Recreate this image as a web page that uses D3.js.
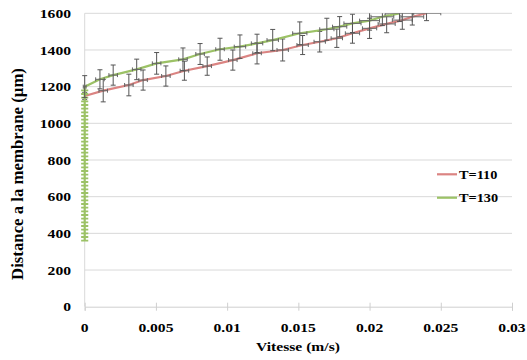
<!DOCTYPE html>
<html><head><meta charset="utf-8">
<script src="https://cdn.jsdelivr.net/npm/d3@7"></script>
<style>body{margin:0;background:#fff} svg{display:block}</style>
</head><body>
<svg id="c" width="527" height="360"></svg>
<script>
const xTicks = [0, 0.005, 0.01, 0.015, 0.02, 0.025, 0.03];
const xTickLabels = ["0", "0.005", "0.01", "0.015", "0.02", "0.025", "0.03"];
const yTicks = [0, 200, 400, 600, 800, 1000, 1200, 1400, 1600];
const seriesNames = ["T=110", "T=130"];
const xTitle = "Vitesse (m/s)";
const yTitle = "Distance a la membrane (µm)";

// T=110
const v110 = [0, 0.0013, 0.0031, 0.0041, 0.0057, 0.0070, 0.0086, 0.0104, 0.0121, 0.0139, 0.0153, 0.0165, 0.0177, 0.0188, 0.0200, 0.0212, 0.0223, 0.0230, 0.0240];
const d110 = [1149, 1178, 1209, 1236, 1258, 1287, 1312, 1345, 1382, 1400, 1427, 1445, 1464, 1491, 1518, 1542, 1563, 1581, 1600];
const dErr110 = [20, 61, 59, 55, 55, 52, 50, 55, 58, 60, 52, 56, 50, 54, 55, 48, 50, 45, 40];
const vErr110 = [0, 0.0003, 0.0003, 0.0003, 0.0003, 0.0003, 0.0003, 0.0003, 0.0003, 0.0004, 0.0004, 0.0004, 0.0004, 0.0005, 0.0005, 0.0006, 0.0007, 0.0008, 0.0010];

// T=130
const v130 = [0, 0, 0, 0, 0, 0, 0, 0, 0, 0, 0, 0, 0, 0, 0, 0, 0, 0, 0, 0, 0, 0, 0, 0, 0, 0, 0, 0, 0, 0, 0, 0, 0, 0, 0, 0, 0, 0, 0, 0, 0, 0,
  0, 0.00107, 0.0020, 0.00365, 0.00505, 0.0069, 0.0081, 0.0095, 0.0109, 0.0121, 0.0132, 0.0151, 0.0170, 0.0179, 0.0188, 0.0200, 0.0209, 0.0221];
const d130 = [360, 380, 400, 420, 440, 460, 480, 500, 520, 540, 560, 580, 600, 620, 640, 660, 680, 700, 720, 740, 760, 780, 800, 820, 840, 860, 880, 900, 920, 940, 960, 980, 1000, 1020, 1040, 1060, 1080, 1100, 1120, 1140, 1160, 1180,
  1200, 1240, 1263, 1294, 1327, 1349, 1378, 1404, 1418, 1436, 1454, 1491, 1513, 1527, 1545, 1560, 1581, 1600];
const dErr130 = [15, 15, 15, 15, 15, 15, 15, 15, 15, 15, 15, 15, 15, 15, 15, 15, 15, 15, 15, 15, 15, 15, 15, 15, 15, 15, 15, 15, 15, 15, 15, 15, 15, 15, 15, 15, 15, 15, 15, 15, 15, 15,
  60, 52, 55, 56, 59, 62, 57, 60, 64, 50, 58, 62, 60, 55, 50, 52, 48, 45];
const vErr130 = [0.00025, 0.00025, 0.00025, 0.00025, 0.00025, 0.00025, 0.00025, 0.00025, 0.00025, 0.00025, 0.00025, 0.00025, 0.00025, 0.00025, 0.00025, 0.00025, 0.00025, 0.00025, 0.00025, 0.00025, 0.00025, 0.00025, 0.00025, 0.00025, 0.00025, 0.00025, 0.00025, 0.00025, 0.00025, 0.00025, 0.00025, 0.00025, 0.00025, 0.00025, 0.00025, 0.00025, 0.00025, 0.00025, 0.00025, 0.00025, 0.00025, 0.00025,
  0.0001, 0.0003, 0.0003, 0.0003, 0.0003, 0.0003, 0.0003, 0.0003, 0.0004, 0.0004, 0.0004, 0.0005, 0.0005, 0.0005, 0.0006, 0.0007, 0.0008, 0.0010];

const colors = ["#db8482", "#9cc266"];
const FONT = "'Liberation Serif','Times New Roman',serif";

const svg = d3.select("#c");
const m = {l: 84.7, r: 15, t: 13.3, b: 53.3};
const W = 527, H = 360;
const x = d3.scaleLinear().domain([0, 0.03]).range([m.l, W - m.r]);
const y = d3.scaleLinear().domain([0, 1600]).range([H - m.b, m.t]);

// gridlines
svg.append("g").selectAll("line").data(yTicks.filter(d => d > 0)).join("line")
  .attr("x1", x(0)).attr("x2", x(0.03)).attr("y1", d => y(d)).attr("y2", d => y(d))
  .attr("stroke", "#d9d9d9").attr("stroke-width", 1);

// y axis line
svg.append("line").attr("x1", x(0)).attr("x2", x(0)).attr("y1", y(0)).attr("y2", y(1600))
  .attr("stroke", "#d9d9d9");

// x axis
const xa = svg.append("g").attr("transform", `translate(0,${y(0)})`)
  .call(d3.axisBottom(x).tickValues(xTicks).tickSize(4).tickFormat(""));
xa.select(".domain").attr("stroke", "#cfcfcf");
xa.selectAll(".tick line").attr("stroke", "#cfcfcf").attr("y1", -4).attr("y2", 4);

function stretched(sel, sx) {
  return sel.attr("transform", function() {
    const px = +this.getAttribute("data-x"), py = +this.getAttribute("data-y");
    return `translate(${px},${py}) scale(${sx},1)`;
  });
}

// x tick labels
svg.append("g").selectAll("text").data(xTicks).join("text")
  .attr("data-x", d => x(d)).attr("data-y", 331.5)
  .attr("text-anchor", "middle").attr("font-family", FONT).attr("font-weight", "bold")
  .attr("font-size", 13).attr("fill", "#000")
  .text((d, i) => xTickLabels[i]).call(s => stretched(s, 1.2));

// y tick labels
svg.append("g").selectAll("text").data(yTicks).join("text")
  .attr("data-x", 71).attr("data-y", d => y(d) + 4.6)
  .attr("text-anchor", "end").attr("font-family", FONT).attr("font-weight", "bold")
  .attr("font-size", 13).attr("fill", "#000")
  .text(d => d).call(s => stretched(s, 1.2));

// axis titles
svg.append("text").attr("data-x", 298).attr("data-y", 351)
  .attr("text-anchor", "middle").attr("font-family", FONT).attr("font-weight", "bold")
  .attr("font-size", 13).text(xTitle).call(s => stretched(s, 1.2));
svg.append("text").attr("transform", `translate(22.5,174) rotate(-90)`)
  .attr("text-anchor", "middle").attr("font-family", FONT).attr("font-weight", "bold")
  .attr("font-size", 16.8).text(yTitle);

// clip
svg.append("clipPath").attr("id", "clip").append("rect")
  .attr("x", x(0) - 10).attr("y", y(1600)).attr("width", x(0.03) - x(0) + 20).attr("height", y(0) - y(1600));
const plot = svg.append("g").attr("clip-path", "url(#clip)");

const series = [
  {name: seriesNames[0], v: v110, d: d110, dErr: dErr110, vErr: vErr110, color: colors[0]},
  {name: seriesNames[1], v: v130, d: d130, dErr: dErr130, vErr: vErr130, color: colors[1]}
];

const line = d3.line().x(p => x(p[0])).y(p => y(p[1]));

series.forEach(s => {
  const pts = s.v.map((v, i) => ({v, d: s.d[i], de: s.dErr[i], ve: s.vErr[i]}));
  plot.append("path").datum(pts.map(p => [p.v, p.d])).attr("d", line)
    .attr("fill", "none").attr("stroke", s.color).attr("stroke-width", 2.2);
  const eb = plot.append("g");
  pts.forEach(p => {
    if (p.v === 0 && s.name === seriesNames[1] && p.d < 1200) {
      eb.append("line").attr("x1", x(-p.ve)).attr("x2", x(p.ve)).attr("y1", y(p.d)).attr("y2", y(p.d))
        .attr("stroke", s.color).attr("stroke-width", 1.8);
      return;
    }
    const cx = x(p.v), cy = y(p.d);
    if (p.de > 0) {
      eb.append("line").attr("x1", cx).attr("x2", cx).attr("y1", y(p.d - p.de)).attr("y2", y(p.d + p.de))
        .attr("stroke", "#555").attr("stroke-width", 1);
      [p.d - p.de, p.d + p.de].forEach(e => eb.append("line")
        .attr("x1", cx - 2.5).attr("x2", cx + 2.5).attr("y1", y(e)).attr("y2", y(e))
        .attr("stroke", "#555").attr("stroke-width", 1));
    }
    if (p.ve > 0) {
      eb.append("line").attr("x1", x(p.v - p.ve)).attr("x2", x(p.v + p.ve)).attr("y1", cy).attr("y2", cy)
        .attr("stroke", "#666").attr("stroke-width", 1);
      [p.v - p.ve, p.v + p.ve].forEach(e => eb.append("line")
        .attr("x1", x(e)).attr("x2", x(e)).attr("y1", cy - 2).attr("y2", cy + 2)
        .attr("stroke", "#666").attr("stroke-width", 1));
    }
  });
});

// legend
const lg = svg.append("g");
[[seriesNames[0], colors[0], 174.3], [seriesNames[1], colors[1], 197.7]].forEach(([n, c, ly]) => {
  lg.append("line").attr("x1", 437).attr("x2", 457).attr("y1", ly).attr("y2", ly)
    .attr("stroke", c).attr("stroke-width", 2.2);
  lg.append("text").attr("data-x", 459).attr("data-y", ly + 4.4)
    .attr("font-family", FONT).attr("font-weight", "bold").attr("font-size", 13)
    .text(n).call(s => stretched(s, 1.1));
});
</script>
</body></html>
